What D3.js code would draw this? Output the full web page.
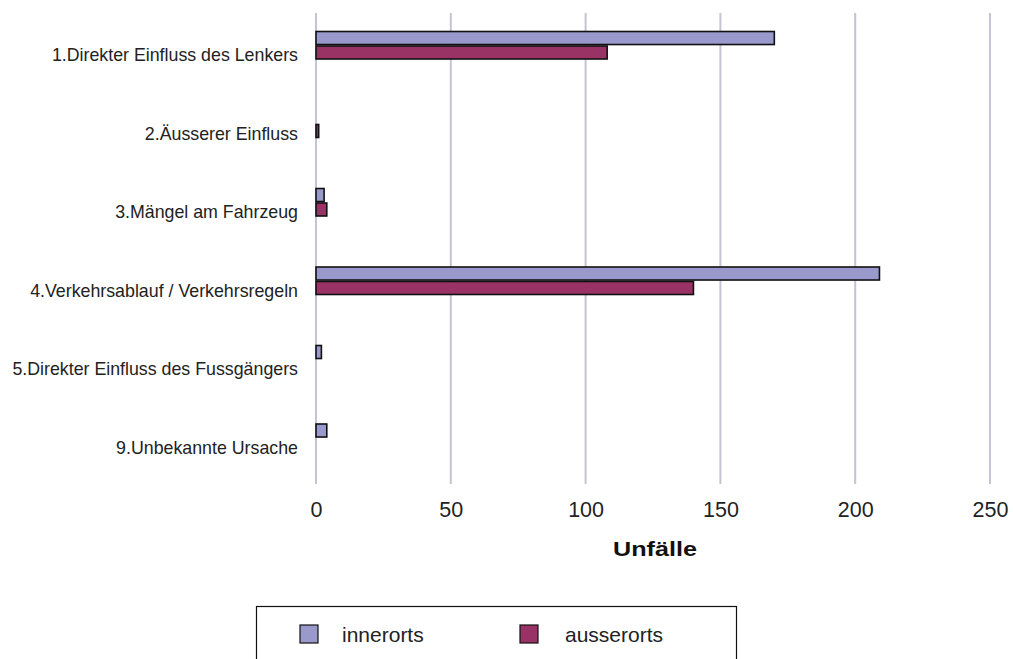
<!DOCTYPE html>
<html><head><meta charset="utf-8">
<script src="https://cdn.jsdelivr.net/npm/d3@7"></script>
<style>body{margin:0;background:#fff;} svg{display:block;font-family:"Liberation Sans",Arial,sans-serif;}</style>
</head><body>
<svg id="c" width="1013" height="659"></svg>
<script>
const categories = ["1.Direkter Einfluss des Lenkers","2.Äusserer Einfluss","3.Mängel am Fahrzeug","4.Verkehrsablauf / Verkehrsregeln","5.Direkter Einfluss des Fussgängers","9.Unbekannte Ursache"];
const innerorts = [170, 0, 3, 209, 2, 4];
const ausserorts = [108, 1, 4, 140, 0, 0];
const seriesNames = ["innerorts","ausserorts"];
const seriesColors = ["#9999cc","#993366"];
const xTicks = [0,50,100,150,200,250];
const xTitle = "Unfälle";

const svg = d3.select("#c");
const x = d3.scaleLinear().domain([0,250]).range([316,990]);
const y = d3.scaleBand().domain(categories).range([13,484]);
const sub = d3.scaleBand().domain(seriesNames).range([18.5,46]).paddingInner(0.1);

// gridlines
svg.append("g").selectAll("line").data(xTicks).join("line")
  .attr("x1",d=>x(d)).attr("x2",d=>x(d)).attr("y1",13).attr("y2",484)
  .attr("stroke","#c4c4d4").attr("stroke-width",2);

// bars
const data = [innerorts, ausserorts];
data.forEach((vals,si)=>{
  svg.append("g").selectAll("rect").data(categories.map((c,i)=>({c,v:vals[i]})).filter(d=>d.v>0)).join("rect")
    .attr("x",x(0)).attr("y",d=>y(d.c)+sub(seriesNames[si]))
    .attr("width",d=>x(d.v)-x(0)).attr("height",sub.bandwidth())
    .attr("fill",seriesColors[si]).attr("stroke","#111").attr("stroke-width",1.6);
});

// category labels
svg.append("g").selectAll("text").data(categories).join("text")
  .attr("x",298).attr("y",d=>y(d)+42).attr("dy","0.35em")
  .attr("text-anchor","end").attr("font-size",17.8).attr("fill","#222").text(d=>d);

// x axis tick labels
const ax = svg.append("g").attr("transform","translate(0,502)")
  .call(d3.axisBottom(x).tickValues(xTicks).tickSize(0).tickPadding(0));
ax.select(".domain").remove();
ax.selectAll("text").attr("font-size",21.5).attr("fill","#222").attr("dy","0.71em")
  .style("font-family","'Liberation Sans',Arial,sans-serif");

svg.append("text").attr("x",655).attr("y",556).attr("text-anchor","middle")
  .attr("font-size",20).attr("font-weight","bold").attr("fill","#111")
  .attr("textLength",84).attr("lengthAdjust","spacingAndGlyphs").text(xTitle);

// legend
svg.append("rect").attr("x",256.5).attr("y",606.5).attr("width",480).attr("height",60)
  .attr("fill","#fff").attr("stroke","#111").attr("stroke-width",1.2);
const lx = [300, 520], tx = [342, 565];
seriesNames.forEach((n,i)=>{
  svg.append("rect").attr("x",lx[i]).attr("y",625).attr("width",18).attr("height",18)
    .attr("fill",seriesColors[i]).attr("stroke","#111").attr("stroke-width",1.2);
  svg.append("text").attr("x",tx[i]).attr("y",635).attr("dy","0.35em")
    .attr("font-size",21).attr("fill","#222").text(n);
});
</script>
</body></html>
